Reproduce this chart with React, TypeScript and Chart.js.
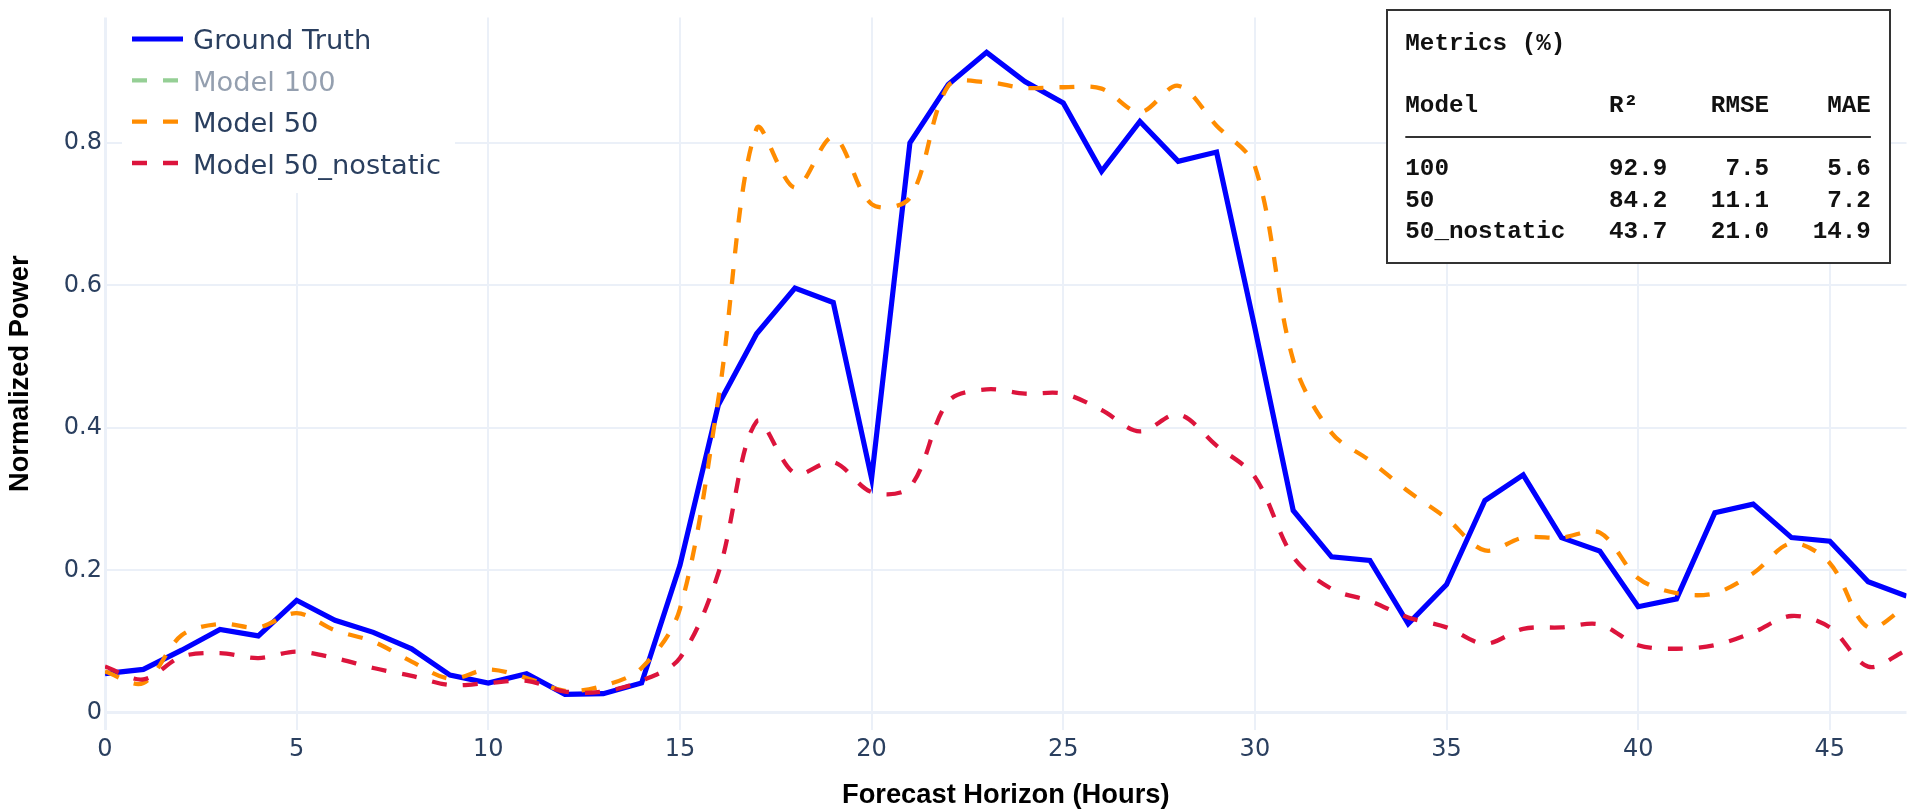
import React, { useEffect, useRef } from 'react';
import { Chart, registerables } from 'chart.js';

Chart.register(...registerables);

// ---------------- data ----------------
const hours = [
  0, 1, 2, 3, 4, 5, 6, 7, 8, 9, 10, 11, 12, 13, 14, 15, 16, 17, 18, 19, 20, 21, 22, 23,
  24, 25, 26, 27, 28, 29, 30, 31, 32, 33, 34, 35, 36, 37, 38, 39, 40, 41, 42, 43, 44, 45, 46, 47,
];

const groundTruth = [
  0.055, 0.061, 0.088, 0.117, 0.108, 0.158, 0.130, 0.113, 0.090, 0.053, 0.042, 0.055,
  0.026, 0.027, 0.042, 0.207, 0.432, 0.532, 0.596, 0.576, 0.329, 0.800, 0.882, 0.927,
  0.886, 0.856, 0.760, 0.830, 0.774, 0.787, 0.540, 0.284, 0.219, 0.214, 0.125, 0.180,
  0.298, 0.334, 0.246, 0.227, 0.149, 0.160, 0.281, 0.293, 0.246, 0.241, 0.184, 0.164,
];

// Model 100 is shown only in the legend (trace hidden in the reference)
const model100: number[] = [];

const model50 = [
  0.058, 0.042, 0.109, 0.125, 0.120, 0.140, 0.116, 0.100, 0.072, 0.048, 0.061, 0.049,
  0.031, 0.038, 0.063, 0.146, 0.440, 0.820, 0.737, 0.808, 0.714, 0.723, 0.880, 0.885,
  0.877, 0.878, 0.876, 0.843, 0.880, 0.824, 0.767, 0.495, 0.393, 0.354, 0.311, 0.273,
  0.228, 0.246, 0.246, 0.253, 0.189, 0.168, 0.168, 0.196, 0.238, 0.210, 0.120, 0.150,
];

const model50NoStatic = [
  0.065, 0.047, 0.079, 0.084, 0.077, 0.086, 0.077, 0.063, 0.052, 0.039, 0.042, 0.045,
  0.030, 0.030, 0.045, 0.077, 0.196, 0.409, 0.336, 0.352, 0.310, 0.317, 0.437, 0.454,
  0.448, 0.448, 0.425, 0.395, 0.419, 0.375, 0.331, 0.219, 0.174, 0.157, 0.134, 0.120,
  0.097, 0.118, 0.120, 0.124, 0.095, 0.090, 0.095, 0.113, 0.136, 0.120, 0.065, 0.088,
];

const xTickValues = [0, 5, 10, 15, 20, 25, 30, 35, 40, 45];
const yTickValues = [0, 0.2, 0.4, 0.6, 0.8];

const seriesLabels = ['Ground Truth', 'Model 100', 'Model 50', 'Model 50_nostatic'];

const metricsTitle = 'Metrics (%)';
const metricsHeader = ['Model', 'R²', 'RMSE', 'MAE'];
const metricModels = ['100', '50', '50_nostatic'];
const metricR2 = ['92.9', '84.2', '43.7'];
const metricRMSE = ['7.5', '11.1', '21.0'];
const metricMAE = ['5.6', '7.2', '14.9'];

const xTitle = 'Forecast Horizon (Hours)';
const yTitle = 'Normalized Power';

// ---------------- helpers ----------------
const toPoints = (ys: number[]) => ys.map((y, i) => ({ x: hours[i], y }));

const TICK_COLOR = '#2a3f5f';
const GRID_COLOR = '#ebf0f8';
const DASH = [15, 16];

const overlayPlugin = {
  id: 'overlay',
  afterDraw(chart: any) {
    const ctx = chart.ctx as CanvasRenderingContext2D;
    ctx.save();

    // ---- legend (top-left, inside the plot) ----
    ctx.fillStyle = '#ffffff';
    ctx.fillRect(122, 10, 333, 183);
    const datasets = chart.data.datasets;
    const rowLine = [39, 80.3, 121.7, 163];
    const rowBase = [49.3, 90.7, 132.1, 173.5];
    datasets.forEach((ds: any, i: number) => {
      ctx.save();
      if (ds.hidden) ctx.globalAlpha = 0.5;
      ctx.strokeStyle = ds.borderColor;
      ctx.lineWidth = ds.borderWidth;
      ctx.setLineDash(ds.borderDash || []);
      ctx.beginPath();
      ctx.moveTo(132, rowLine[i]);
      ctx.lineTo(183, rowLine[i]);
      ctx.stroke();
      ctx.setLineDash([]);
      ctx.fillStyle = TICK_COLOR;
      ctx.font = '27.3px "DejaVu Sans"';
      ctx.textAlign = 'left';
      ctx.textBaseline = 'alphabetic';
      ctx.fillText(ds.label, 193, rowBase[i]);
      ctx.restore();
    });

    // ---- metrics box (top-right) ----
    const bx = 1387, by = 10, bw = 503, bh = 253;
    ctx.fillStyle = '#ffffff';
    ctx.fillRect(bx, by, bw, bh);
    ctx.strokeStyle = '#333333';
    ctx.lineWidth = 2;
    ctx.strokeRect(bx, by, bw, bh);

    const left = 1405.3;
    const cw = 14.55;
    const col = (n: number) => left + n * cw;
    ctx.fillStyle = '#111111';
    ctx.font = 'bold 24.25px "Liberation Mono", "DejaVu Sans Mono", monospace';
    ctx.textBaseline = 'alphabetic';

    ctx.textAlign = 'left';
    ctx.fillText(metricsTitle, col(0), 50);

    const headerY = 111.7;
    ctx.textAlign = 'left';
    ctx.fillText(metricsHeader[0], col(0), headerY);
    ctx.fillText(metricsHeader[1], col(14), headerY);
    ctx.textAlign = 'right';
    ctx.fillText(metricsHeader[2], col(25), headerY);
    ctx.fillText(metricsHeader[3], col(32), headerY);

    ctx.fillStyle = '#333333';
    ctx.fillRect(col(0), 136, 32 * cw, 2);
    ctx.fillStyle = '#111111';

    const rowYs = [175, 206.7, 238.3];
    metricModels.forEach((m, i) => {
      const y = rowYs[i];
      ctx.textAlign = 'left';
      ctx.fillText(m, col(0), y);
      ctx.fillText(metricR2[i], col(14), y);
      ctx.textAlign = 'right';
      ctx.fillText(metricRMSE[i], col(25), y);
      ctx.fillText(metricMAE[i], col(32), y);
    });

    ctx.restore();
  },
};

export default function App() {
  const canvasRef = useRef<HTMLCanvasElement | null>(null);

  useEffect(() => {
    const canvas = canvasRef.current;
    if (!canvas) return;

    const chart = new Chart(canvas, {
      type: 'line',
      data: {
        datasets: [
          {
            label: seriesLabels[0],
            data: toPoints(groundTruth),
            borderColor: '#0000ff',
            backgroundColor: '#0000ff',
            borderWidth: 5.2,
            tension: 0,
            pointRadius: 0,
            order: 3,
          },
          {
            label: seriesLabels[1],
            data: toPoints(model100),
            borderColor: '#2ca02c',
            backgroundColor: '#2ca02c',
            borderWidth: 4.3,
            borderDash: DASH,
            tension: 0.33,
            pointRadius: 0,
            hidden: true,
            order: 2,
          },
          {
            label: seriesLabels[2],
            data: toPoints(model50),
            borderColor: '#ff8c00',
            backgroundColor: '#ff8c00',
            borderWidth: 4.3,
            borderDash: DASH,
            tension: 0.33,
            pointRadius: 0,
            order: 1,
          },
          {
            label: seriesLabels[3],
            data: toPoints(model50NoStatic),
            borderColor: '#dc143c',
            backgroundColor: '#dc143c',
            borderWidth: 4.3,
            borderDash: DASH,
            tension: 0.33,
            pointRadius: 0,
            order: 0,
          },
        ],
      },
      options: {
        responsive: false,
        animation: false,
        devicePixelRatio: 1,
        layout: { padding: { top: 3, right: 1.5, bottom: 0, left: 0 } },
        plugins: {
          legend: { display: false },
          tooltip: { enabled: false },
        },
        elements: { point: { radius: 0 } },
        scales: {
          x: {
            type: 'linear',
            min: 0,
            max: 47,
            afterFit: (s: any) => {
              s.height = 81;
            },
            afterBuildTicks: (s: any) => {
              s.ticks = xTickValues.map((v) => ({ value: v }));
            },
            grid: {
              color: GRID_COLOR,
              lineWidth: (c: any) => (c.tick && c.tick.value === 0 ? 3 : 2),
              drawTicks: false,
            },
            border: { display: false },
            ticks: {
              color: TICK_COLOR,
              font: { family: '"DejaVu Sans"', size: 24 },
              padding: 5,
              maxRotation: 0,
              autoSkip: false,
              callback: (v: any) => String(v),
            },
            title: {
              display: true,
              text: xTitle,
              color: '#000000',
              font: { family: '"Liberation Sans", Arial', size: 27.3, weight: 'bold', lineHeight: 1 },
              padding: { top: 0, bottom: 2 },
            },
          },
          y: {
            type: 'linear',
            min: -0.024,
            max: 0.976,
            afterFit: (s: any) => {
              s.width = 105;
            },
            afterBuildTicks: (s: any) => {
              s.ticks = yTickValues.map((v) => ({ value: v }));
            },
            grid: {
              color: GRID_COLOR,
              lineWidth: (c: any) => (c.tick && c.tick.value === 0 ? 3 : 2),
              drawTicks: false,
            },
            border: { display: false },
            ticks: {
              color: TICK_COLOR,
              font: { family: '"DejaVu Sans"', size: 24 },
              padding: 3,
              autoSkip: false,
              callback: (v: any) => String(Math.round(Number(v) * 10) / 10),
            },
            title: {
              display: true,
              text: yTitle,
              color: '#000000',
              font: { family: '"Liberation Sans", Arial', size: 27.3, weight: 'bold', lineHeight: 1 },
              padding: { top: 6.6, bottom: 0 },
            },
          },
        },
      } as any,
      plugins: [overlayPlugin],
    });

    return () => {
      chart.destroy();
    };
  }, []);

  return (
    <div style={{ position: 'fixed', left: 0, top: 0, width: 1908, height: 811, background: '#ffffff' }}>
      <canvas ref={canvasRef} width={1908} height={811} style={{ display: 'block', width: 1908, height: 811 }} />
    </div>
  );
}
